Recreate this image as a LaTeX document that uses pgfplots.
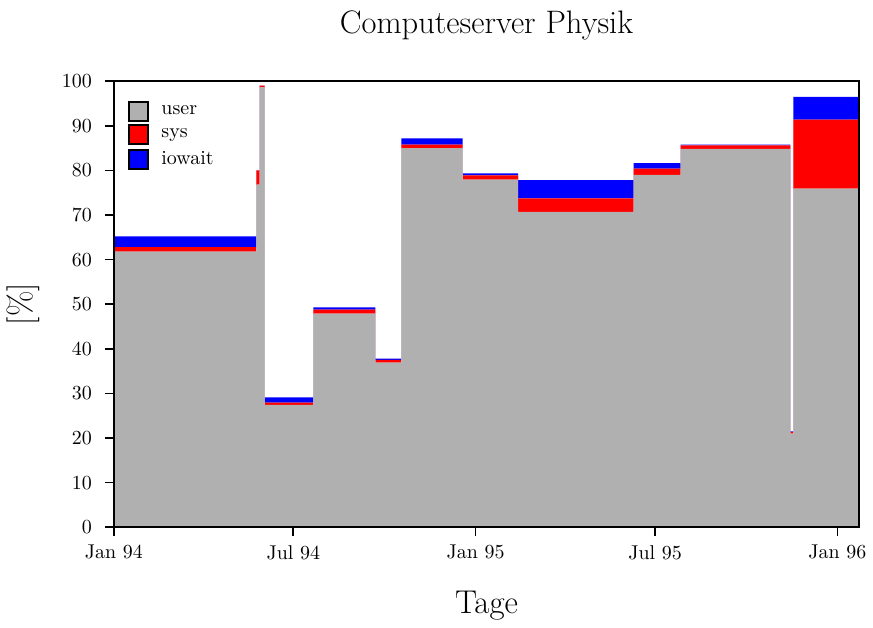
\documentclass[border=0pt]{standalone}
\usepackage{pgfplots}
\pgfplotsset{compat=1.18}
\definecolor{usergray}{RGB}{176,176,176}
\begin{document}
\begin{tikzpicture}
\begin{axis}[
  scale only axis,
  width=373.5pt, height=223.5pt,
  xmin=0, xmax=752, ymin=0, ymax=100,
  axis on top,
  axis line style={line width=0.9pt},
  tick align=outside, tick pos=left,
  major tick length=4.5pt,
  tick style={line width=0.8pt, black},
  xtick={0,181,365,546,730},
  xticklabels={Jan 94, Jul 94, Jan 95, Jul 95, Jan 96},
  ytick={0,10,...,100},
  ticklabel style={font=\normalsize},
  yticklabel style={xshift=-3pt},
  xticklabel style={yshift=-1pt},
  title={Computeserver Physik},
  title style={font=\fontsize{16.3}{20}\selectfont, at={(axis description cs:0.5,1.0984)}, anchor=center},
  xlabel={Tage},
  xlabel style={font=\fontsize{16.5}{20}\selectfont, at={(axis description cs:0.5,-0.1767)}, anchor=center},
  ylabel={[\%]},
  ylabel style={font=\fontsize{16.5}{20}\selectfont, at={(axis description cs:-0.1218,0.5)}, anchor=center},
  stack plots=y,
  const plot mark left,
  legend style={draw=none, fill=none, inner sep=0pt, outer sep=0pt, at={(axis description cs:0,1)}, anchor=north west, xshift=7pt, yshift=-10pt, font=\normalsize, row sep=1.3pt},
  legend cell align=left,
]
\addplot[draw=none, fill=usergray, forget plot] coordinates {
(0,61.8) (143.9,76.8) (147,98.6) (152,27.4) (201.3,47.9) (263.8,36.9) (290.2,85.0) (352,77.9) (408,70.7) (524.5,79.0) (571.8,84.8) (682.5,21.0) (685.6,75.9) (752,75.9)
} \closedcycle;
\addplot[draw=none, fill=red, forget plot] coordinates {
(0,1.0) (143.9,3.2) (147,0.4) (152,0.5) (201.3,0.9) (263.8,0.6) (290.2,0.8) (352,1.0) (408,3.0) (524.5,1.4) (571.8,0.8) (682.5,0.3) (685.6,15.5) (752,15.5)
} \closedcycle;
\addplot[draw=none, fill=blue, forget plot] coordinates {
(0,2.4) (143.9,0) (147,0) (152,1.2) (201.3,0.5) (263.8,0.3) (290.2,1.4) (352,0.4) (408,4.1) (524.5,1.2) (571.8,0.2) (682.5,0.2) (685.6,5.1) (752,5.1)
} \closedcycle;
\addlegendimage{legend image code/.code={\draw[fill=usergray, draw=black, line width=0.9pt] (0pt,-4.75pt) rectangle (9.5pt,4.75pt); \path (14.2pt,0pt);}}
\addlegendentry{user}
\addlegendimage{legend image code/.code={\draw[fill=red, draw=black, line width=0.9pt] (0pt,-4.75pt) rectangle (9.5pt,4.75pt); \path (14.2pt,0pt);}}
\addlegendentry{sys}
\addlegendimage{legend image code/.code={\draw[fill=blue, draw=black, line width=0.9pt] (0pt,-4.75pt) rectangle (9.5pt,4.75pt); \path (14.2pt,0pt);}}
\addlegendentry{iowait}
\end{axis}
\path (current bounding box.north) ++(0,2pt);
\end{tikzpicture}
\end{document}
